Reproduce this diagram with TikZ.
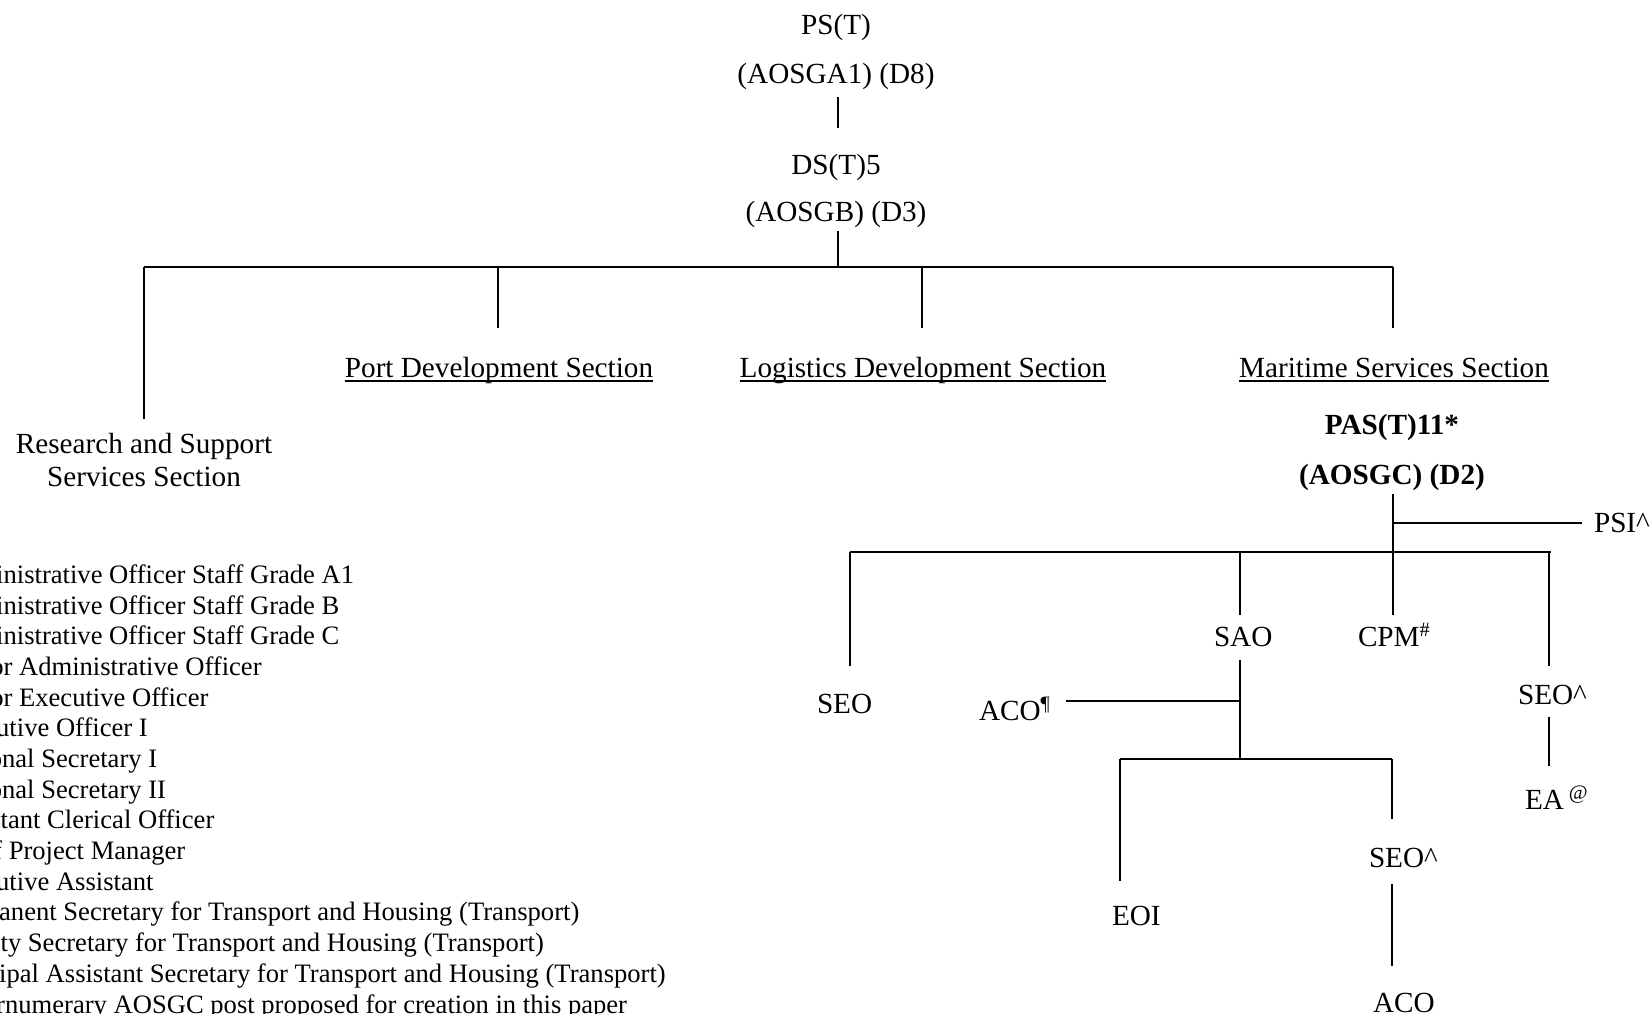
\documentclass[tikz,border=0pt]{standalone}
\usepackage{fontspec}
\setmainfont{Liberation Serif}[Ligatures=CommonOff]
\begin{document}
\begin{tikzpicture}[x=1pt,y=-1pt,
  every node/.style={inner sep=0pt, outer sep=0pt},
  lbl/.style={anchor=base, font=\fontsize{29.2pt}{33pt}\selectfont},
  lblw/.style={anchor=base west, font=\fontsize{29.2pt}{33pt}\selectfont},
  blbl/.style={anchor=base, font=\fontsize{29.2pt}{33pt}\selectfont\bfseries},
  leg/.style={anchor=base west, font=\fontsize{26.6pt}{30.7pt}\selectfont},
  conn/.style={line width=1.8pt, black},
  uline/.style={line width=1.8pt, black}]
\useasboundingbox (0,0) rectangle (1650,1014);
\clip (0,0) rectangle (1650,1014);
\fill[white] (0,0) rectangle (1650,1014);

% ---------- top of chart
\node[lbl] (ps)  at (836,35)  {PS(T)};
\node[lbl] (psg) at (836,84)  {(AOSGA1) (D8)};
\node[lbl] (ds)  at (836,175) {DS(T)5};
\node[lbl] (dsg) at (836,222) {(AOSGB) (D3)};

\coordinate (psgS) at (838,97);
\coordinate (dsN)  at (838,128);
\draw[conn] (psgS) -- (dsN);
\coordinate (dsgS) at (838,231);
\coordinate (busA) at (838,267);
\draw[conn] (dsgS) -- (busA);

\coordinate (busL) at (144,267);
\coordinate (busR) at (1393,267);
\draw[conn] (busL) -- (busR);

\coordinate (busP) at (498,267);
\coordinate (busG) at (922,267);
\coordinate (rsN)  at (144,419);
\coordinate (pdN)  at (498,328);
\coordinate (ldN)  at (922,328);
\coordinate (msN)  at (1393,328);
\draw[conn] (busL) -- (rsN);
\draw[conn] (busP) -- (pdN);
\draw[conn] (busG) -- (ldN);
\draw[conn] (busR) -- (msN);

% ---------- sections
\node[lbl] (pd) at (499,377)  {Port Development Section};
\node[lbl] (ld) at (923,377)  {Logistics Development Section};
\node[lbl] (ms) at (1394,377) {Maritime Services Section};
\foreach \n in {pd,ld,ms}
  \draw[uline] ([yshift=-4pt]\n.base west) -- ([yshift=-4pt]\n.base east);

\node[lbl] (rs1) at (144,453) {Research and Support};
\node[lbl] (rs2) at (144,486) {Services Section};

% ---------- Maritime Services Section
\node[blbl] (pas)  at (1392,434) {PAS(T)11*};
\node[blbl] (pasg) at (1392,484) {(AOSGC) (D2)};

\coordinate (pasS) at (1393,494);
\coordinate (psiJ) at (1393,523);
\coordinate (psiE) at (1582,523);
\coordinate (bus2) at (1393,552);
\coordinate (cpmN) at (1393,615);
\draw[conn] (pasS) -- (cpmN);
\draw[conn] (psiJ) -- (psiE);
\node[lblw] (psi) at (1594,532) {PSI\textasciicircum};

\coordinate (bus2L) at (850,552);
\coordinate (bus2R) at (1551,552);
\draw[conn] (bus2L) -- (bus2R);

% left SEO
\coordinate (seo1N) at (850,666);
\draw[conn] (bus2L) -- (seo1N);
\node[lblw] (seo1) at (817,713) {SEO};

% SAO
\coordinate (saoT) at (1240,552);
\coordinate (saoN) at (1240,615);
\draw[conn] (saoT) -- (saoN);
\node[lblw] (sao) at (1214,646) {SAO};

% CPM
\node[lblw] (cpm) at (1358,646) {CPM\textsuperscript{\#}};

% right SEO^ and EA
\coordinate (seo3T) at (1549,552);
\coordinate (seo3N) at (1549,666);
\draw[conn] (seo3T) -- (seo3N);
\node[lblw] (seo3) at (1518,704) {SEO\textasciicircum};
\coordinate (seo3S) at (1549,717);
\coordinate (eaN)   at (1549,766);
\draw[conn] (seo3S) -- (eaN);
\node[lblw] (ea) at (1525,809) {EA\,\textsuperscript{@}};

% below SAO
\coordinate (saoS)  at (1240,660);
\coordinate (acoJ)  at (1240,701);
\coordinate (acoE)  at (1066,701);
\coordinate (bus3)  at (1240,759);
\draw[conn] (saoS) -- (bus3);
\draw[conn] (acoJ) -- (acoE);
\node[lblw] (aco1) at (979,720) {ACO\textsuperscript{¶}};

\coordinate (bus3L) at (1120,759);
\coordinate (bus3R) at (1392,759);
\draw[conn] (bus3L) -- (bus3R);
\coordinate (eoiN) at (1120,881);
\draw[conn] (bus3L) -- (eoiN);
\node[lblw] (eoi) at (1112,925) {EOI};

\coordinate (seo2N) at (1392,819);
\draw[conn] (bus3R) -- (seo2N);
\node[lblw] (seo2) at (1369,867) {SEO\textasciicircum};
\coordinate (seo2S) at (1392,884);
\coordinate (aco2N) at (1392,966);
\draw[conn] (seo2S) -- (aco2N);
\node[lblw] (aco2) at (1373,1012) {ACO};

% ---------- legend (cut by the left edge)
\foreach \t [count=\i from 0] in {
  Administrative Officer Staff Grade A1,
  Administrative Officer Staff Grade B,
  Administrative Officer Staff Grade C,
  Senior Administrative Officer,
  Senior Executive Officer,
  Executive Officer I,
  Personal Secretary I,
  Personal Secretary II,
  Assistant Clerical Officer,
  Chief Project Manager,
  Executive Assistant,
  Permanent Secretary for Transport and Housing (Transport),
  Deputy Secretary for Transport and Housing (Transport),
  Principal Assistant Secretary for Transport and Housing (Transport),
  Supernumerary AOSGC post proposed for creation in this paper}
  \node[leg] (leg\i) at (-57,583.5+30.68*\i) {\t};
\end{tikzpicture}
\end{document}
